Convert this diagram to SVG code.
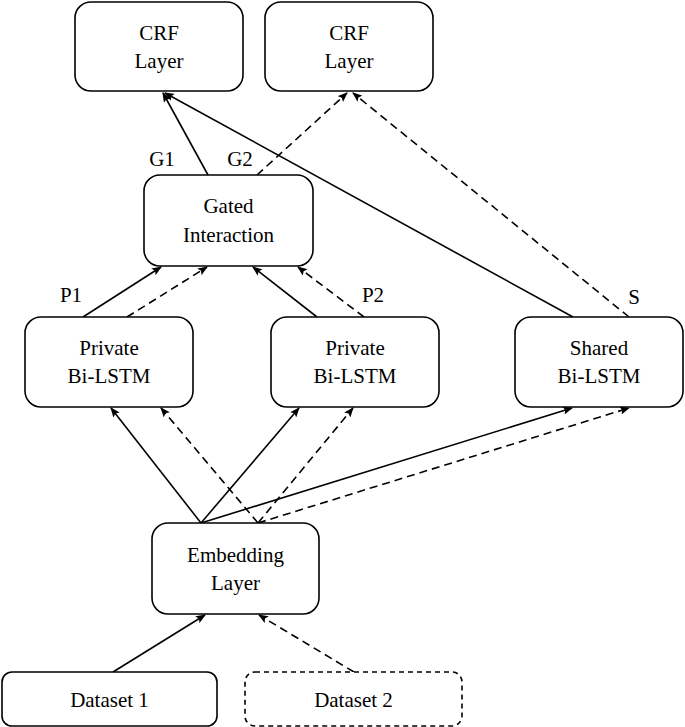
<svg xmlns="http://www.w3.org/2000/svg" width="685" height="727" viewBox="0 0 685 727">
<style>
.box{fill:#fff;stroke:#000;stroke-width:1.6}
.dbox{fill:#fff;stroke:#000;stroke-width:1.6;stroke-dasharray:5 4}
.c{fill:none;stroke:#000;stroke-width:1.6}
.s{marker-end:url(#ah)}
.d{stroke-dasharray:8 5;marker-end:url(#ah)}
</style>
<defs>
<marker id="ah" markerWidth="10" markerHeight="8" refX="9" refY="4" orient="auto" markerUnits="userSpaceOnUse">
<path d="M0,0 L10,4 L0,8 L2,4 Z" fill="#000"/>
</marker>
</defs>
<g id="connectors">
<line class="c s" x1="208" y1="175" x2="163" y2="93"/>
<line class="c d" x1="257" y1="175" x2="347" y2="93"/>
<line class="c s" x1="573" y1="317" x2="165" y2="93"/>
<line class="c d" x1="629" y1="317" x2="353" y2="93"/>
<line class="c s" x1="83" y1="317" x2="161" y2="267"/>
<line class="c d" x1="127" y1="317" x2="207" y2="267"/>
<line class="c s" x1="317" y1="317" x2="253" y2="267"/>
<line class="c d" x1="364" y1="317" x2="298" y2="267"/>
<line class="c s" x1="201" y1="523" x2="111" y2="408"/>
<line class="c s" x1="201" y1="523" x2="299" y2="408"/>
<line class="c s" x1="201" y1="523" x2="572" y2="408"/>
<line class="c d" x1="258" y1="523" x2="161" y2="408"/>
<line class="c d" x1="258" y1="523" x2="353" y2="408"/>
<line class="c d" x1="258" y1="523" x2="629" y2="408"/>
<line class="c s" x1="113" y1="672" x2="205" y2="615"/>
<line class="c d" x1="354" y1="672" x2="259" y2="615"/>
</g>
<g font-family="Liberation Serif, serif" font-size="21" fill="#000" text-anchor="middle">
<g id="labels">
<text x="162" y="166">G1</text>
<text x="240" y="166">G2</text>
<text x="71" y="302">P1</text>
<text x="373" y="302">P2</text>
<text x="634" y="304">S</text>
</g>
<g id="crf1">
<rect class="box" x="75" y="2" width="168" height="89" rx="16"/>
<text x="159" y="40">CRF</text>
<text x="159" y="68">Layer</text>
</g>
<g id="crf2">
<rect class="box" x="265" y="2" width="168" height="89" rx="16"/>
<text x="349" y="40">CRF</text>
<text x="349" y="68">Layer</text>
</g>
<g id="gated">
<rect class="box" x="144" y="175" width="169" height="91" rx="16"/>
<text x="228.5" y="213">Gated</text>
<text x="228.5" y="242">Interaction</text>
</g>
<g id="private1">
<rect class="box" x="25" y="317" width="168" height="90" rx="16"/>
<text x="109" y="355">Private</text>
<text x="109" y="383">Bi-LSTM</text>
</g>
<g id="private2">
<rect class="box" x="271" y="317" width="168" height="90" rx="16"/>
<text x="355" y="355">Private</text>
<text x="355" y="383">Bi-LSTM</text>
</g>
<g id="shared">
<rect class="box" x="515" y="317" width="168" height="90" rx="16"/>
<text x="599" y="355">Shared</text>
<text x="599" y="383">Bi-LSTM</text>
</g>
<g id="embedding">
<rect class="box" x="152" y="523" width="167" height="91" rx="16"/>
<text x="235.5" y="562">Embedding</text>
<text x="235.5" y="590">Layer</text>
</g>
<g id="dataset1">
<rect class="box" x="2" y="672" width="215" height="54" rx="10"/>
<text x="109.5" y="707">Dataset 1</text>
</g>
<g id="dataset2">
<rect class="dbox" x="245" y="672" width="217" height="54" rx="10"/>
<text x="353.5" y="707">Dataset 2</text>
</g>
</g>
</svg>
